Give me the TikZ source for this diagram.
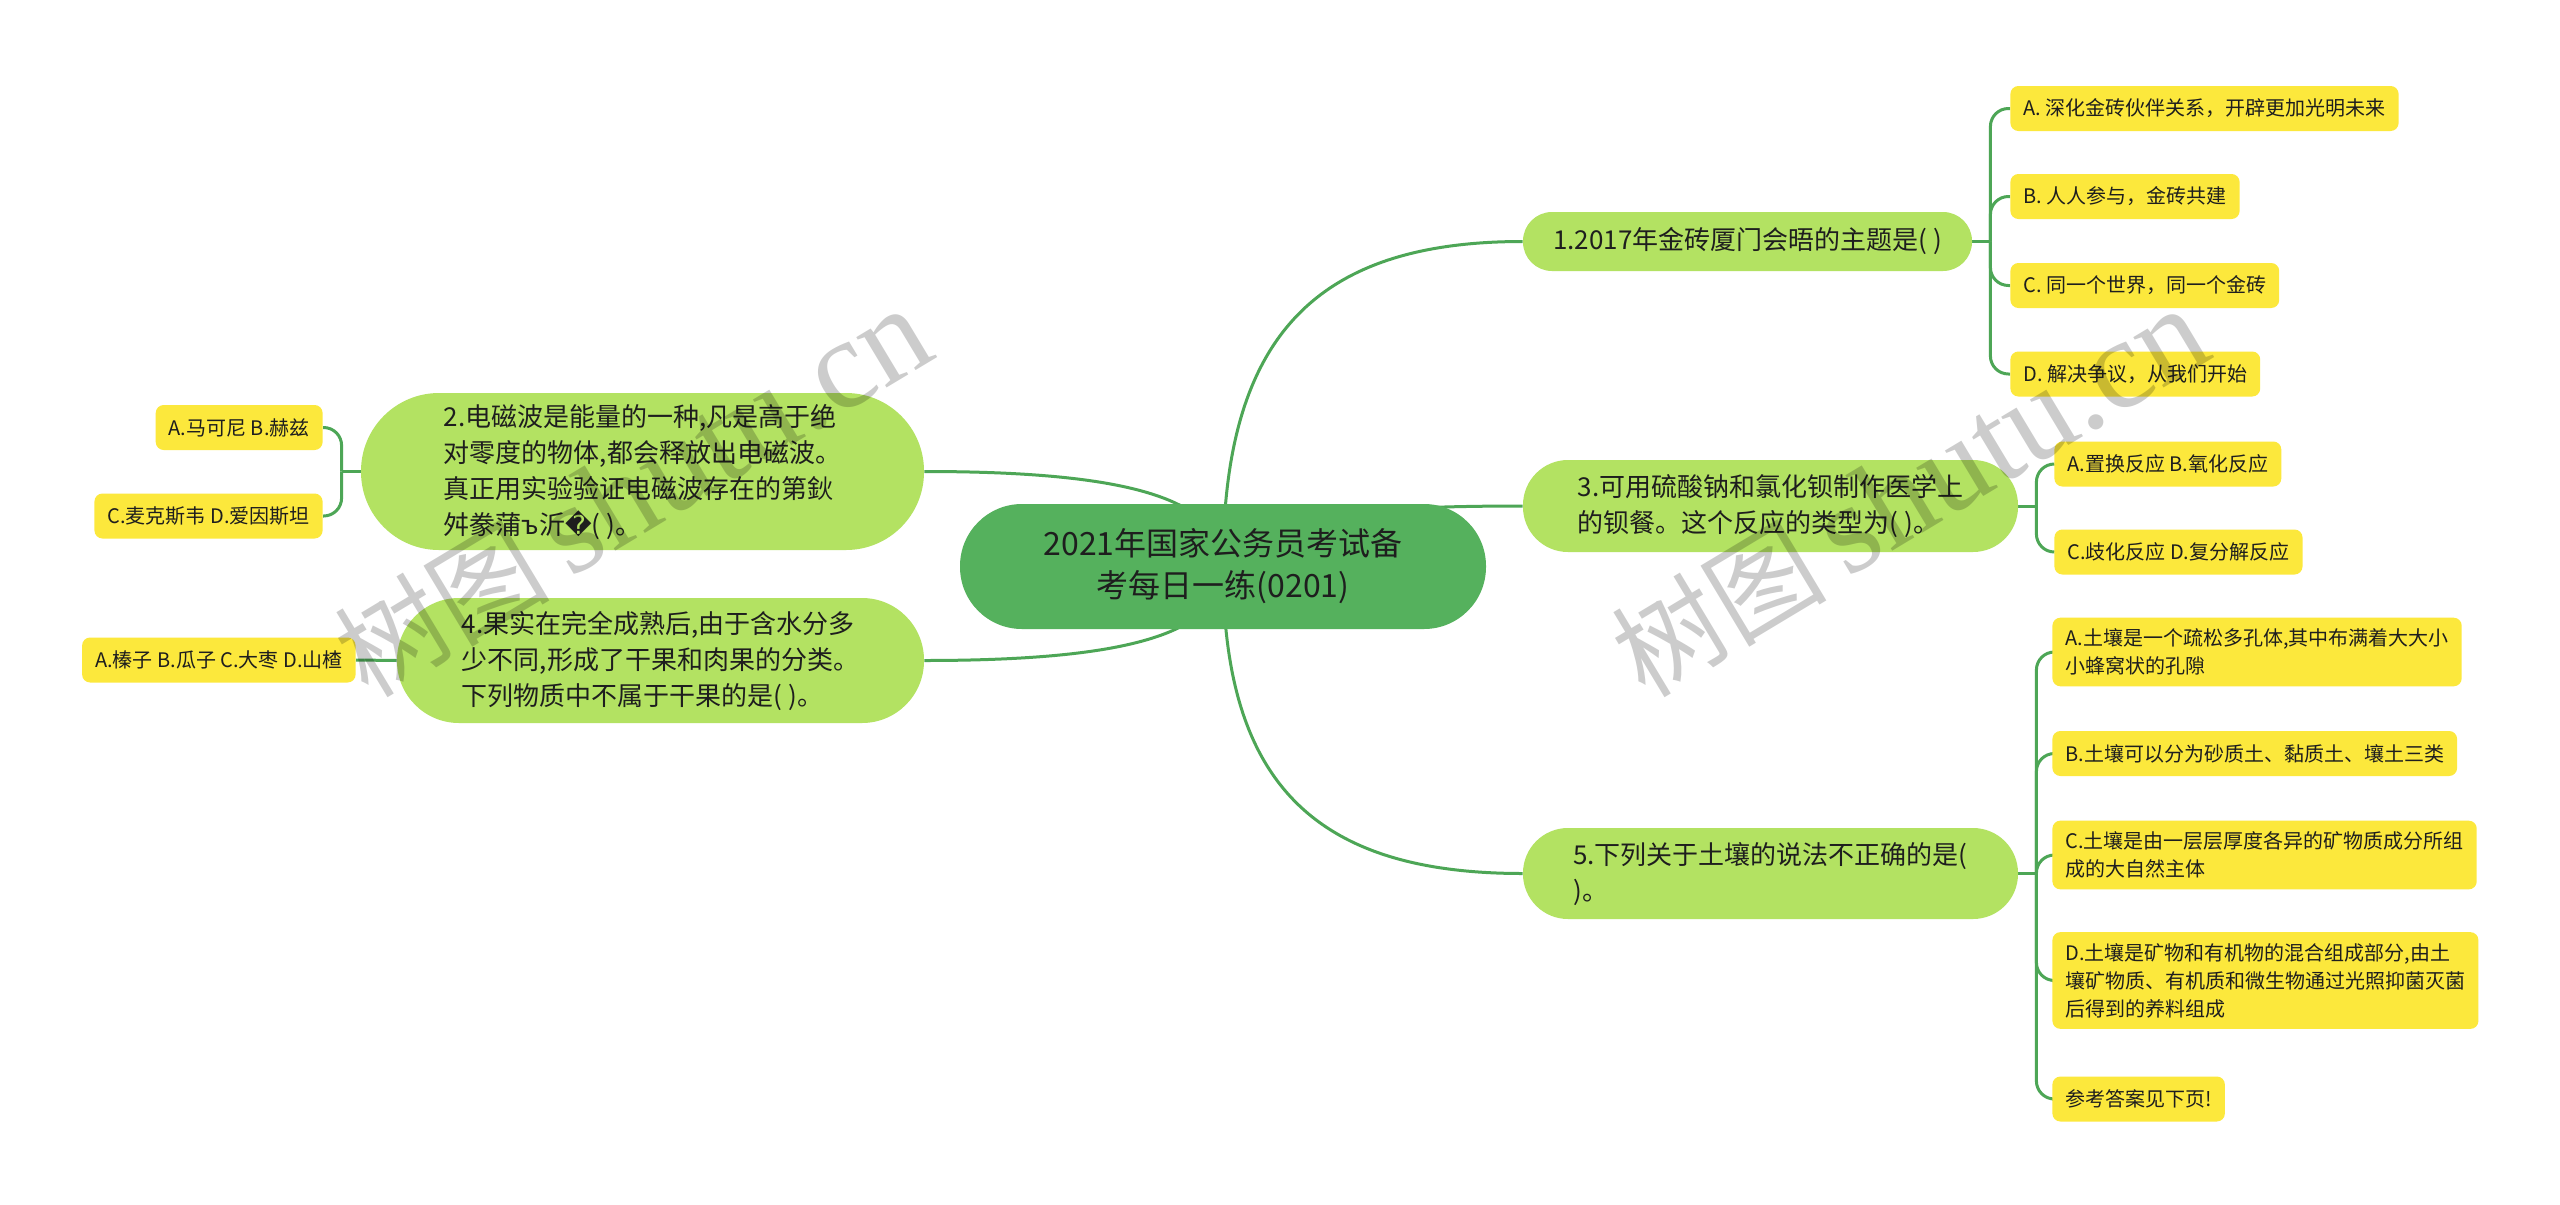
\documentclass[tikz,border=0pt]{standalone}
\usepackage{fontspec}
\setmainfont{Noto Sans CJK SC}
\newfontfamily\wmlatin{Liberation Serif}
\newfontfamily\symfont{DejaVu Sans}
\usetikzlibrary{backgrounds,calc}
\definecolor{rootgreen}{HTML}{55B15D}
\definecolor{qgreen}{HTML}{B3E262}
\definecolor{optyellow}{HTML}{FCE83C}
\definecolor{linegreen}{HTML}{4DA656}
\definecolor{txt}{HTML}{1E1E1E}
\begin{document}
\begin{tikzpicture}[x=0.5pt,y=-0.5pt,
  rootnode/.style={fill=rootgreen, text=txt, rounded corners=31pt, minimum width=263pt, minimum height=62.5pt, inner sep=0pt, align=center, font=\fontsize{16}{21}\selectfont},
  qnode/.style={fill=qgreen, text=txt, inner sep=0pt, align=left, font=\fontsize{13}{18}\selectfont},
  optnode/.style={fill=optyellow, text=txt, rounded corners=4pt, inner xsep=6.5pt, inner ysep=5.5pt, minimum height=22.5pt, align=left, font=\fontsize{10}{14}\selectfont},
  conn/.style={draw=linegreen, line width=1.5pt},
  wm/.style={text=black, text opacity=0.2, rotate=31, anchor=base west, inner sep=0pt}
]
\useasboundingbox (0,0) rectangle (2560,1205);

% root
\node[rootnode] (root) at (1223,566.5) {2021年国家公务员考试备\\考每日一练(0201)};

% questions
\node[qnode, minimum width=224.5pt, minimum height=29.5pt, rounded corners=14.5pt] (q1) at (1747.5,241.5) {1.2017年金砖厦门会晤的主题是( )};
\node[qnode, minimum width=281.5pt, minimum height=78.5pt, rounded corners=39pt] (q2) at (642.5,471.5) {2.电磁波是能量的一种,凡是高于绝\\对零度的物体,都会释放出电磁波。\\真正用实验验证电磁波存在的第鈥\\舛豢蒲ъ沂{\symfont �}( )。};
\node[qnode, minimum width=247.5pt, minimum height=46pt, rounded corners=22.5pt] (q3) at (1770.5,506) {3.可用硫酸钠和氯化钡制作医学上\\的钡餐。这个反应的类型为( )。};
\node[qnode, minimum width=263.5pt, minimum height=62.5pt, rounded corners=31pt] (q4) at (660.5,660.5) {4.果实在完全成熟后,由于含水分多\\少不同,形成了干果和肉果的分类。\\下列物质中不属于干果的是( )。};
\node[qnode, minimum width=247.5pt, minimum height=45.5pt, rounded corners=22.5pt] (q5) at (1770.5,873.5) {5.下列关于土壤的说法不正确的是(\\)。};

% options of q1
\node[optnode, anchor=west] (q1a) at (2010,108.5) {A. 深化金砖伙伴关系，开辟更加光明未来};
\node[optnode, anchor=west] (q1b) at (2010,196.5) {B. 人人参与，金砖共建};
\node[optnode, anchor=west] (q1c) at (2010,285.5) {C. 同一个世界，同一个金砖};
\node[optnode, anchor=west] (q1d) at (2010,374) {D. 解决争议，从我们开始};

% options of q2
\node[optnode, anchor=east] (q2a) at (323,427.5) {A.马可尼 B.赫兹};
\node[optnode, anchor=east] (q2b) at (323,516) {C.麦克斯韦 D.爱因斯坦};

% options of q3
\node[optnode, anchor=west] (q3a) at (2054,464) {A.置换反应 B.氧化反应};
\node[optnode, anchor=west] (q3b) at (2054,552) {C.歧化反应 D.复分解反应};

% option of q4
\node[optnode, anchor=east] (q4a) at (356,660) {A.榛子 B.瓜子 C.大枣 D.山楂};

% options of q5
\node[optnode, anchor=west] (q5a) at (2052,652) {A.土壤是一个疏松多孔体,其中布满着大大小\\小蜂窝状的孔隙};
\node[optnode, anchor=west] (q5b) at (2052,753.5) {B.土壤可以分为砂质土、黏质土、壤土三类};
\node[optnode, anchor=west] (q5c) at (2052,855) {C.土壤是由一层层厚度各异的矿物质成分所组\\成的大自然主体};
\node[optnode, anchor=west] (q5d) at (2052,980.5) {D.土壤是矿物和有机物的混合组成部分,由土\\壤矿物质、有机质和微生物通过光照抑菌灭菌\\后得到的养料组成};
\node[optnode, anchor=west] (q5e) at (2052,1099) {参考答案见下页!};

% fork points
\coordinate (f1) at ($(q1.east)+(18,0)$);
\coordinate (f2) at ($(q2.west)+(-19,0)$);
\coordinate (f3) at ($(q3.east)+(18,0)$);
\coordinate (f5) at ($(q5.east)+(18,0)$);

\begin{scope}[on background layer]
\fill[white] (0,0) rectangle (2560,1205);
% root to questions
\draw[conn] (root.center) .. controls ($(root.center)!0.7!(root.center |- q1.west)$) and ($(q1.west)!0.7!(root.center |- q1.west)$) .. (q1.west);
\draw[conn] (root.center) .. controls ($(root.center)!0.7!(root.center |- q2.east)$) and ($(q2.east)!0.7!(root.center |- q2.east)$) .. (q2.east);
\draw[conn] (root.center) .. controls ($(root.center)!0.7!(root.center |- q3.west)$) and ($(q3.west)!0.7!(root.center |- q3.west)$) .. (q3.west);
\draw[conn] (root.center) .. controls ($(root.center)!0.7!(root.center |- q4.east)$) and ($(q4.east)!0.7!(root.center |- q4.east)$) .. (q4.east);
\draw[conn] (root.center) .. controls ($(root.center)!0.7!(root.center |- q5.west)$) and ($(q5.west)!0.7!(root.center |- q5.west)$) .. (q5.west);
% q1 branches
\draw[conn] (q1.east) -- (f1);
\foreach \c in {q1a,q1b,q1c,q1d} \draw[conn, rounded corners=9pt] (f1) |- (\c.west);
% q2 branches
\draw[conn] (q2.west) -- (f2);
\foreach \c in {q2a,q2b} \draw[conn, rounded corners=9pt] (f2) |- (\c.east);
% q3 branches
\draw[conn] (q3.east) -- (f3);
\foreach \c in {q3a,q3b} \draw[conn, rounded corners=9pt] (f3) |- (\c.west);
% q4 branch
\draw[conn] (q4.west) -- (q4a.east);
% q5 branches
\draw[conn] (q5.east) -- (f5);
\foreach \c in {q5a,q5b,q5c,q5d,q5e} \draw[conn, rounded corners=9pt] (f5) |- (\c.west);
\end{scope}

% watermarks
\node[wm] (wm1) at (368,700) {{\fontsize{54}{54}\selectfont 树图}\hspace{10pt}{\wmlatin\fontsize{64}{64}\selectfont shutu.cn}};
\node[wm] (wm2) at (1645,700) {{\fontsize{54}{54}\selectfont 树图}\hspace{10pt}{\wmlatin\fontsize{64}{64}\selectfont shutu.cn}};
\end{tikzpicture}
\end{document}
